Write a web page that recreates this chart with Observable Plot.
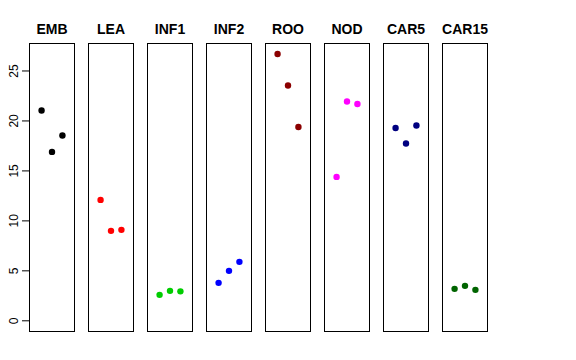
<!DOCTYPE html>
<html>
<head>
<meta charset="utf-8">
<script src="https://cdn.jsdelivr.net/npm/d3@7"></script>
<script src="https://cdn.jsdelivr.net/npm/@observablehq/plot@0.6"></script>
<style>
  html, body { margin: 0; padding: 0; background: white; }
</style>
</head>
<body>
<div id="chart"></div>
<script>
const panels = ["EMB", "LEA", "INF1", "INF2", "ROO", "NOD", "CAR5", "CAR15"];
const colors = ["#000000", "#FF0000", "#00CD00", "#0000FF", "#8B0000", "#FF00FF", "#000080", "#006400"];
const rep1 = [21.05, 12.1, 2.6, 3.8, 26.7, 14.4, 19.3, 3.2];
const rep2 = [16.9, 9.0, 3.0, 5.0, 23.55, 21.95, 17.75, 3.5];
const rep3 = [18.55, 9.1, 2.95, 5.9, 19.4, 21.7, 19.55, 3.1];
const yTicks = [0, 5, 10, 15, 20, 25];

const rows = [];
panels.forEach((p, i) => {
  [rep1, rep2, rep3].forEach((r, j) => rows.push({panel: p, idx: j + 1, value: r[i]}));
});

const chart = Plot.plot({
  width: 576,
  height: 360,
  marginLeft: 29,
  marginRight: 88,
  marginTop: 43,
  marginBottom: 29,
  style: {fontFamily: "'Liberation Sans', Arial, Helvetica, sans-serif", fontSize: "12px", background: "white", color: "black"},
  fx: {domain: panels, paddingInner: 0.237, paddingOuter: 0, axis: null},
  x: {domain: [-0.16, 4.16], axis: null},
  y: {domain: [-1.07, 27.75]},
  color: {domain: panels, range: colors},
  marks: [
    Plot.frame({stroke: "black", strokeWidth: 1}),
    Plot.axisY({ticks: yTicks, tickSize: 7, tickRotate: -90, tickPadding: 5, fontSize: 12, label: null, stroke: "black"}),
    Plot.dot(rows, {fx: "panel", x: "idx", y: "value", fill: "panel", r: 3.2, stroke: null}),
    Plot.text(panels, {fx: d => d, text: d => d, frameAnchor: "top", lineAnchor: "middle", dy: -14, fontWeight: "bold", fontSize: 14, fill: "black"})
  ]
});
document.getElementById("chart").appendChild(chart);
</script>
</body>
</html>
